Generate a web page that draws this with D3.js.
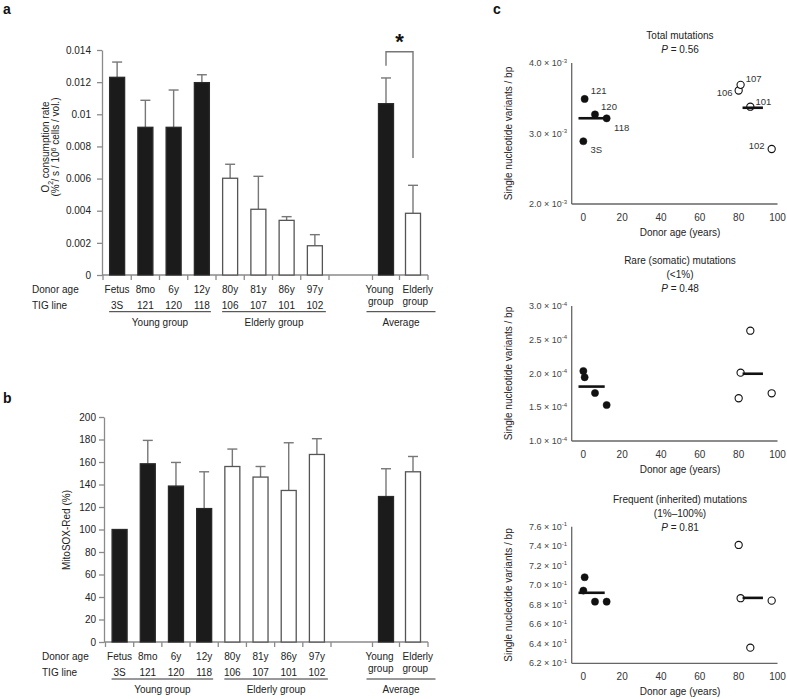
<!DOCTYPE html>
<html>
<head>
<meta charset="utf-8">
<title>O2 consumption, MitoSOX and mtDNA mutations</title>
<script src="https://d3js.org/d3.v7.min.js"></script>
<style>
  body { margin: 0; background: #fff; }
  svg { font-family: Arial, 'Liberation Sans', sans-serif; display: block; }
  text { fill: #222; }
</style>
</head>
<body>
<div id="chart"></div>
<script>

//********************
// data
//********************

var donorAge = ["Fetus", "8mo", "6y", "12y", "80y", "81y", "86y", "97y"];
var tigLine  = ["3S", "121", "120", "118", "106", "107", "101", "102"];
var young    = [true, true, true, true, false, false, false, false];
var avgNames = ["Young group", "Elderly group"];

// panel a: O2 consumption rate
var o2Rate   = [0.0123, 0.00919, 0.00919, 0.01197, 0.00602, 0.00409, 0.0034, 0.00182];
var o2Err    = [0.00095, 0.00168, 0.00232, 0.00049, 0.00087, 0.00205, 0.00023, 0.00069];
var o2Avg    = [0.01066, 0.00384];
var o2AvgErr = [0.0016, 0.00174];
var o2Ticks  = [0, 0.002, 0.004, 0.006, 0.008, 0.01, 0.012, 0.014];
var o2Sig    = {top: 0.01389, leftEnd: 0.01302, rightEnd: 0.00728, label: "*"};

// panel b: MitoSOX-Red
var mitoRate   = [100, 158.4, 138.6, 118.6, 156, 146.6, 134.7, 166.7];
var mitoErr    = [0, 20.8, 21, 32.7, 15.5, 9.4, 42.4, 14];
var mitoAvg    = [129.3, 151.3];
var mitoAvgErr = [24.7, 13.6];
var mitoTicks  = [0, 20, 40, 60, 80, 100, 120, 140, 160, 180, 200];

// panel c: single nucleotide variants / bp vs donor age
var donorYears = [0, 0.67, 6, 12, 80, 81, 86, 97];
var snvTotal    = [2.89e-3, 3.49e-3, 3.27e-3, 3.215e-3, 3.61e-3, 3.69e-3, 3.38e-3, 2.78e-3];
var snvRare     = [2.037e-4, 1.944e-4, 1.711e-4, 1.533e-4, 1.633e-4, 2.012e-4, 2.634e-4, 1.707e-4];
var snvFrequent = [0.6945, 0.7082, 0.6832, 0.6832, 0.7413, 0.6867, 0.636, 0.6842];
var ageTicks = [0, 20, 40, 60, 80, 100];
var meanSpan = {young: [-2.5, 11], elderly: [82, 92.5]};   // x extent of group mean bars (years)


//********************
// setup
//********************

var width = 787, height = 699;
var svg = d3.select("#chart").append("svg").attr("width", width).attr("height", height);

var axisColor = "#8a8a8a";

function panelLetter(t, x, y) {
    svg.append("text").attr("x", x).attr("y", y)
        .style("font-size", "14px").style("font-weight", 700).style("fill", "#111")
        .text(t);
}

function styleAxis(g) {
    g.select(".domain").attr("stroke", axisColor).attr("stroke-width", 1.3);
    g.selectAll(".tick line").attr("stroke", axisColor).attr("stroke-width", 1.3);
    g.selectAll(".tick text").style("font-size", "10px").style("fill", "#222");
}


//********************
// bar panels (a, b)
//********************

function barPanel(o) {
    var g = svg.append("g");
    var y = d3.scaleLinear().domain(o.domain).range([o.yBottom, o.yTop]);
    var xMain = d3.scaleBand().domain(tigLine).range(o.mainRange);
    var xAvg = d3.scaleBand().domain(avgNames).range(o.avgRange);
    var barW = 15;

    // y axis
    g.append("g").attr("transform", `translate(${o.axisX},0)`)
        .call(d3.axisLeft(y).tickValues(o.ticks).tickSize(5).tickSizeOuter(0).tickPadding(o.tickPad)
            .tickFormat(o.fmt))
        .call(styleAxis);

    // x axis line with boundary ticks
    var endX = o.avgRange[1] + 1.5;
    g.append("line").attr("x1", o.axisX).attr("x2", endX)
        .attr("y1", o.yBottom).attr("y2", o.yBottom)
        .attr("stroke", axisColor).attr("stroke-width", 1.3);
    var bounds = tigLine.map(d => xMain(d)).concat([o.mainRange[1]])
        .concat(avgNames.map(d => xAvg(d))).concat([endX]);
    g.selectAll("line.xt").data(bounds).enter().append("line").attr("class", "xt")
        .attr("x1", d => d).attr("x2", d => d)
        .attr("y1", o.yBottom).attr("y2", o.yBottom + 5)
        .attr("stroke", axisColor).attr("stroke-width", 1.3);

    var rows = tigLine.map((t, i) => ({
        cx: xMain(t) + xMain.bandwidth() / 2, v: o.values[i], e: o.errors[i], young: young[i]
    })).concat(avgNames.map((n, i) => ({
        cx: xAvg(n) + xAvg.bandwidth() / 2, v: o.avg[i], e: o.avgErr[i], young: i === 0
    })));

    // error bars (upper only)
    var eb = g.selectAll("g.err").data(rows.filter(d => d.e > 0)).enter().append("g").attr("class", "err");
    eb.append("line")
        .attr("x1", d => d.cx).attr("x2", d => d.cx)
        .attr("y1", d => y(d.v)).attr("y2", d => y(d.v + d.e))
        .attr("stroke", "#777").attr("stroke-width", 1.4);
    eb.append("line")
        .attr("x1", d => d.cx - 5).attr("x2", d => d.cx + 5)
        .attr("y1", d => y(d.v + d.e)).attr("y2", d => y(d.v + d.e))
        .attr("stroke", "#777").attr("stroke-width", 1.4);

    // bars
    g.selectAll("rect.bar").data(rows).enter().append("rect").attr("class", "bar")
        .attr("x", d => d.cx - barW / 2)
        .attr("y", d => y(d.v))
        .attr("width", barW)
        .attr("height", d => o.yBottom - y(d.v))
        .attr("fill", d => d.young ? "#1b1b1b" : "#fff")
        .attr("stroke", d => d.young ? "#2a2a2a" : "#555")
        .attr("stroke-width", 1.3);

    // y label
    var yl = g.append("text")
        .attr("transform", `translate(${o.yLabelX},${o.yLabelY}) rotate(-90)`)
        .attr("text-anchor", "middle").style("font-size", "10px");
    o.yLabel(yl);

    // category rows
    var fs = "10px";
    g.append("text").attr("x", o.rowLabelX).attr("y", o.rowY[0]).style("font-size", fs).text("Donor age");
    g.append("text").attr("x", o.rowLabelX).attr("y", o.rowY[1]).style("font-size", fs).text("TIG line");
    g.selectAll("text.age").data(donorAge).enter().append("text").attr("class", "age")
        .attr("x", (d, i) => xMain(tigLine[i]) + xMain.bandwidth() / 2)
        .attr("y", o.rowY[0]).attr("text-anchor", "middle").style("font-size", fs).text(d => d);
    g.selectAll("text.tig").data(tigLine).enter().append("text").attr("class", "tig")
        .attr("x", d => xMain(d) + xMain.bandwidth() / 2)
        .attr("y", o.rowY[1]).attr("text-anchor", "middle").style("font-size", fs).text(d => d);

    // average column labels, two lines
    var mid = xAvg(avgNames[1]);
    avgNames.forEach((n, i) => {
        var w = n.split(" ");
        var t = g.append("text")
            .attr("text-anchor", i === 0 ? "end" : "start")
            .style("font-size", fs);
        var xx = i === 0 ? mid - 6 : mid + 3;
        t.append("tspan").attr("x", xx).attr("y", o.rowY[0]).text(w[0]);
        t.append("tspan").attr("x", xx).attr("y", o.rowY[0] + 12.5).text(w[1]);
    });

    // group underlines
    var c = t => xMain(t) + xMain.bandwidth() / 2;
    var groups = [
        {name: "Young group", x1: c("3S") - 8, x2: c("118") + 9},
        {name: "Elderly group", x1: c("106") - 8, x2: c("102") + 11},
        {name: "Average", x1: o.avgRange[0] - 6, x2: o.avgRange[1] + 9}
    ];
    g.selectAll("line.grp").data(groups).enter().append("line").attr("class", "grp")
        .attr("x1", d => d.x1).attr("x2", d => d.x2)
        .attr("y1", o.rowY[2]).attr("y2", o.rowY[2])
        .attr("stroke", "#333").attr("stroke-width", 1);
    g.selectAll("text.grp").data(groups).enter().append("text").attr("class", "grp")
        .attr("x", d => (d.x1 + d.x2) / 2).attr("y", o.rowY[3])
        .attr("text-anchor", "middle").style("font-size", fs).text(d => d.name);

    return {g: g, y: y, xAvg: xAvg};
}

// panel a
panelLetter("a", 3, 14);
var pa = barPanel({
    domain: [0, 0.014], yBottom: 275, yTop: 50, axisX: 102, tickPad: 6,
    mainRange: [103, 329], avgRange: [372.5, 426.5],
    ticks: o2Ticks, fmt: d => d === 0 ? "0" : String(+d.toFixed(3)),
    values: o2Rate, errors: o2Err, avg: o2Avg, avgErr: o2AvgErr,
    yLabelX: 49, yLabelY: 147,
    yLabel: function(t) {
        var l1 = t.append("tspan").attr("x", 0).attr("y", 0);
        l1.append("tspan").text("O");
        l1.append("tspan").attr("baseline-shift", "sub").style("font-size", "7px").text("2");
        l1.append("tspan").text(" consumption rate");
        var l2 = t.append("tspan").attr("x", 0).attr("y", 9.5);
        l2.append("tspan").text("(% / s / 10");
        l2.append("tspan").attr("baseline-shift", "super").style("font-size", "7px").text("6");
        l2.append("tspan").text(" cells / vol.)");
    },
    rowLabelX: 32, rowY: [292.5, 309, 311.7, 325.5]
});

// significance bracket
(function() {
    var y = pa.y, xa = pa.xAvg;
    var xl = xa(avgNames[0]) + xa.bandwidth() / 2, xr = xa(avgNames[1]) + xa.bandwidth() / 2;
    pa.g.append("path")
        .attr("d", `M${xl},${y(o2Sig.leftEnd)}V${y(o2Sig.top)}H${xr}V${y(o2Sig.rightEnd)}`)
        .attr("fill", "none").attr("stroke", "#777").attr("stroke-width", 1.4);
    pa.g.append("text").attr("x", (xl + xr) / 2).attr("y", y(o2Sig.top) - 3)
        .attr("text-anchor", "middle").style("font-size", "22px").style("font-weight", 700)
        .style("fill", "#111").text(o2Sig.label);
})();

// panel b
panelLetter("b", 3, 403);
barPanel({
    domain: [0, 200], yBottom: 642, yTop: 417, axisX: 104, tickPad: 3,
    mainRange: [105.5, 331], avgRange: [372.5, 426.5],
    ticks: mitoTicks, fmt: d => String(d),
    values: mitoRate, errors: mitoErr, avg: mitoAvg, avgErr: mitoAvgErr,
    yLabelX: 70, yLabelY: 530,
    yLabel: function(t) { t.text("MitoSOX-Red (%)"); },
    rowLabelX: 42, rowY: [659.5, 676, 679, 692.5]
});


//********************
// scatter panels (c)
//********************

panelLetter("c", 493, 14);

var xAge = d3.scaleLinear().domain([-6, 100]).range([571.7, 777.5]);

var pointLabelPos = {      // label offsets from point centre
    "3S": [13, 8], "121": [14, -8], "120": [14, -8], "118": [15, 9],
    "106": [-14, 2], "107": [13, -6], "101": [13, -5], "102": [-15, -3]
};

function scatterPanel(o) {
    var g = svg.append("g");
    var y = d3.scaleLinear().domain(o.domain).range([o.yBottom, o.yTop]);

    // titles
    o.title.forEach((line, i) => {
        var t = g.append("text").attr("x", 680).attr("y", o.titleY + i * 14.2)
            .attr("text-anchor", "middle").style("font-size", "10px");
        if (line.indexOf("P =") === 0) {
            t.append("tspan").style("font-style", "italic").text("P");
            t.append("tspan").text(line.slice(1));
        } else t.text(line);
    });

    // axes lines
    g.append("line").attr("x1", xAge.range()[0]).attr("x2", xAge.range()[0])
        .attr("y1", o.yTop).attr("y2", o.yBottom).attr("stroke", "#666").attr("stroke-width", 1.3);
    g.append("line").attr("x1", xAge.range()[0]).attr("x2", xAge.range()[1])
        .attr("y1", o.yBottom).attr("y2", o.yBottom).attr("stroke", "#666").attr("stroke-width", 1.3);

    // y tick labels: m.m x 10^e
    var yt = g.selectAll("text.yt").data(o.ticks).enter().append("text").attr("class", "yt")
        .attr("x", 567).attr("y", d => y(d) + 3).attr("text-anchor", "end")
        .style("font-size", "9px").style("fill", "#444");
    yt.append("tspan").text(d => (Math.round(d / Math.pow(10, o.exp) * 10) / 10).toFixed(1) + " \u00d7 10");
    yt.append("tspan").attr("dy", -3.5).style("font-size", "6px").text("-" + Math.abs(o.exp));

    // x tick labels
    g.selectAll("text.xt").data(ageTicks).enter().append("text").attr("class", "xt")
        .attr("x", d => xAge(d)).attr("y", o.yBottom + 16.5).attr("text-anchor", "middle")
        .style("font-size", "10px").style("fill", "#333").text(d => d);
    g.append("text").attr("x", 680).attr("y", o.yBottom + 31.5).attr("text-anchor", "middle")
        .style("font-size", "10px").text("Donor age (years)");

    // y title
    g.append("text").attr("transform", `translate(${512},${(o.yTop + o.yBottom) / 2}) rotate(-90)`)
        .attr("text-anchor", "middle").style("font-size", "10px")
        .text("Single nucleotide variants / bp");

    var pts = tigLine.map((t, i) => ({t: t, age: donorYears[i], v: o.values[i], young: young[i]}));

    g.selectAll("circle.pt").data(pts).enter().append("circle").attr("class", "pt")
        .attr("cx", d => xAge(d.age)).attr("cy", d => y(d.v)).attr("r", 3.6)
        .attr("fill", d => d.young ? "#111" : "#fff")
        .attr("stroke", "#111").attr("stroke-width", d => d.young ? 0.5 : 1.1);

    // group means
    var means = [
        {span: meanSpan.young, m: d3.mean(pts.filter(d => d.young), d => d.v)},
        {span: meanSpan.elderly, m: d3.mean(pts.filter(d => !d.young), d => d.v)}
    ];
    g.selectAll("line.mean").data(means).enter().append("line").attr("class", "mean")
        .attr("x1", d => xAge(d.span[0])).attr("x2", d => xAge(d.span[1]))
        .attr("y1", d => y(d.m)).attr("y2", d => y(d.m))
        .attr("stroke", "#111").attr("stroke-width", 2.6);

    if (o.labels) {
        g.selectAll("text.pl").data(pts).enter().append("text").attr("class", "pl")
            .attr("x", d => xAge(d.age) + pointLabelPos[d.t][0])
            .attr("y", d => y(d.v) + pointLabelPos[d.t][1] + 3.3)
            .attr("text-anchor", "middle").style("font-size", "9.5px").style("fill", "#333")
            .text(d => d.t);
    }
}

scatterPanel({
    title: ["Total mutations", "P = 0.56"], titleY: 38.5,
    domain: [2e-3, 4e-3], yBottom: 204, yTop: 63, exp: -3,
    ticks: [2e-3, 3e-3, 4e-3], values: snvTotal, labels: true
});

scatterPanel({
    title: ["Rare (somatic) mutations", "(<1%)", "P = 0.48"], titleY: 264,
    domain: [1e-4, 3e-4], yBottom: 441, yTop: 306, exp: -4,
    ticks: [1e-4, 1.5e-4, 2e-4, 2.5e-4, 3e-4], values: snvRare
});

scatterPanel({
    title: ["Frequent (inherited) mutations", "(1%\u2013100%)", "P = 0.81"], titleY: 502.5,
    domain: [0.62, 0.76], yBottom: 663.3, yTop: 526.7, exp: -1,
    ticks: [0.62, 0.64, 0.66, 0.68, 0.70, 0.72, 0.74, 0.76], values: snvFrequent
});

</script>
</body>
</html>
